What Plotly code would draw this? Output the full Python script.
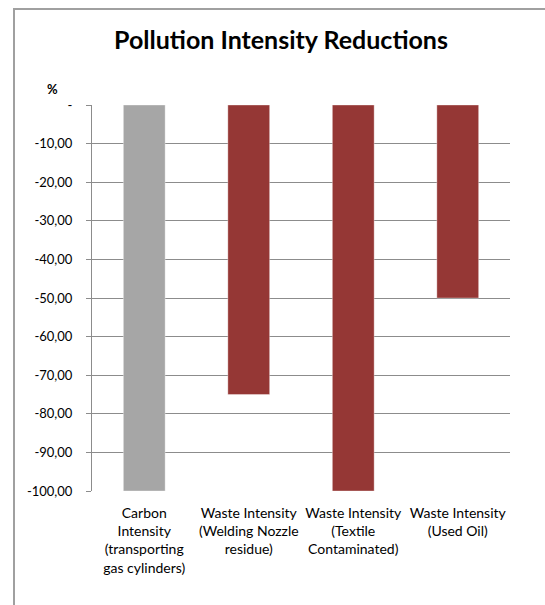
import plotly.graph_objects as go

# Data
categories = [
    "Carbon<br>Intensity<br>(transporting<br>gas cylinders)",
    "Waste Intensity<br>(Welding Nozzle<br>residue)",
    "Waste Intensity<br>(Textile<br>Contaminated)",
    "Waste Intensity<br>(Used Oil)",
]
reductions = [-100.0, -75.0, -100.0, -50.0]
bar_colors = ["#a6a6a6", "#953735", "#953735", "#953735"]

y_tick_values = [0, -10, -20, -30, -40, -50, -60, -70, -80, -90, -100]
y_tick_labels = ["-", "-10,00", "-20,00", "-30,00", "-40,00", "-50,00",
                 "-60,00", "-70,00", "-80,00", "-90,00", "-100,00"]
boundaries = [-0.5, 0.5, 1.5, 2.5, 3.5]

W, H = 545, 605
ML, MR, MT, MB = 92, 35, 105, 114
pw, ph = W - ML - MR, H - MT - MB

FONT = "Lato"

fig = go.Figure()
fig.add_trace(go.Bar(
    x=list(range(len(categories))),
    y=reductions,
    marker=dict(color=bar_colors, line=dict(color="rgba(255,255,255,0.35)", width=1)),
    width=0.4,
    hoverinfo="skip",
))

# outer frame of the chart area
def px_x(p):
    return (p - ML) / pw

def px_y(p):
    return (H - MB - p) / ph

fig.add_shape(type="rect", xref="paper", yref="paper",
              x0=px_x(14), x1=px_x(W + 20), y0=px_y(H + 20), y1=px_y(9),
              line=dict(color="#a0a0a0", width=2), fillcolor="rgba(0,0,0,0)",
              layer="below")

fig.update_layout(
    width=W, height=H,
    margin=dict(l=ML, r=MR, t=MT, b=MB),
    paper_bgcolor="white", plot_bgcolor="white",
    showlegend=False,
    font=dict(family=FONT, color="#000000", size=13),
    title=dict(text="<b>Pollution Intensity Reductions</b>",
               x=281 / W, xref="container", xanchor="center",
               y=1 - 40 / H, yref="container", yanchor="middle",
               font=dict(family=FONT, size=25, color="#000000")),
    xaxis=dict(
        range=[-0.5, 3.5],
        tickvals=list(range(len(categories))),
        ticktext=categories,
        showgrid=False, zeroline=False, showline=False,
        ticks="", ticklabelstandoff=12,
        tickfont=dict(family=FONT, size=14, color="#000000"),
        fixedrange=True,
    ),
    xaxis2=dict(
        overlaying="x", side="top", anchor="y",
        range=[-0.5, 3.5], tickvals=boundaries,
        showticklabels=False, showgrid=False, zeroline=False,
        showline=True, linecolor="#d0d0d0", linewidth=2,
        ticks="inside", ticklen=5, tickcolor="#bdbdbd", tickwidth=1,
    ),
    yaxis=dict(
        range=[-100, 0],
        tickvals=y_tick_values, ticktext=y_tick_labels,
        showgrid=True, gridcolor="#8c8c8c", gridwidth=1,
        zeroline=False,
        showline=True, linecolor="#8c8c8c", linewidth=1,
        ticks="outside", ticklen=5, tickcolor="#8c8c8c",
        ticklabelstandoff=11,
        tickfont=dict(family=FONT, size=13, color="#000000"),
        fixedrange=True,
    ),
)

fig.add_annotation(text="<b>%</b>", xref="paper", yref="paper",
                   x=px_x(52), y=px_y(89), xanchor="center", yanchor="middle",
                   showarrow=False,
                   font=dict(family=FONT, size=13, color="#000000"))

fig.write_html("out.html")
